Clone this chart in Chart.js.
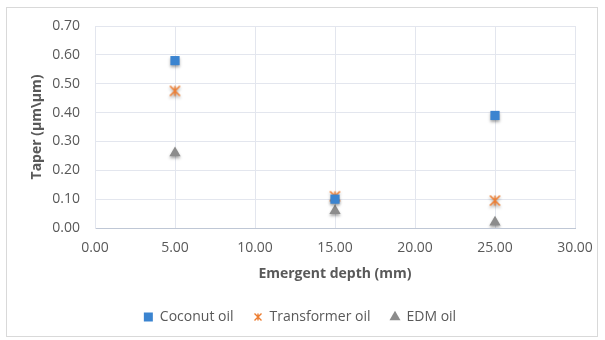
<!DOCTYPE html>
<html>
<head>
<meta charset="utf-8">
<script src="https://cdn.jsdelivr.net/npm/chart.js@4"></script>
<style>
html,body{margin:0;padding:0;background:#fff;}
#wrap{position:relative;width:605px;height:340px;}
#frame{position:absolute;left:6px;top:7px;width:592px;height:330px;border:1px solid #d9d9d9;box-sizing:border-box;pointer-events:none;}
canvas{position:absolute;left:0;top:0;}
</style>
</head>
<body>
<div id="wrap"><canvas id="c" width="605" height="340"></canvas><div id="frame"></div></div>
<script>
const depths = [5, 15, 25];
const coconut = [0.58, 0.10, 0.39];
const transformer = [0.475, 0.11, 0.095];
const edm = [0.26, 0.06, 0.02];
const seriesNames = ['Coconut oil', 'Transformer oil', 'EDM oil'];

function starImg(size, lw){
  const c = document.createElement('canvas');
  c.width = size; c.height = size;
  const g = c.getContext('2d');
  g.strokeStyle = '#ED7D31'; g.lineWidth = lw; g.lineCap = 'butt';
  const m = 1.5, s = size - 1.5;
  g.beginPath();
  g.moveTo(m, m); g.lineTo(s, s);
  g.moveTo(s, m); g.lineTo(m, s);
  g.moveTo(size/2, m); g.lineTo(size/2, s);
  g.stroke();
  return c;
}
const starBig = starImg(13, 1.6);
const starSmall = starImg(10, 1.4);

const toPts = arr => depths.map((d, i) => ({x: d, y: arr[i]}));

const shadowPlugin = {
  id: 'shadow',
  beforeDatasetsDraw(chart){
    const ctx = chart.ctx; ctx.save();
    ctx.shadowColor = 'rgba(0,0,0,0.35)'; ctx.shadowBlur = 3; ctx.shadowOffsetY = 2; ctx.shadowOffsetX = 0;
  },
  afterDatasetsDraw(chart){ chart.ctx.restore(); }
};

const font = "'Open Sans', 'Liberation Sans', sans-serif";
new Chart(document.getElementById('c'), {
  type: 'scatter',
  data: {
    datasets: [
      {label: seriesNames[0], data: toPts(coconut), pointStyle: 'rect', pointRadius: 6.5, pointHoverRadius: 6.5, backgroundColor: '#3B84D0', borderColor: '#3B84D0', borderWidth: 0},
      {label: seriesNames[1], data: toPts(transformer), pointStyle: starBig, pointRadius: 6, backgroundColor: '#ED7D31', borderColor: '#ED7D31'},
      {label: seriesNames[2], data: toPts(edm), pointStyle: 'triangle', pointRadius: 6.5, backgroundColor: '#8C8C8C', borderColor: '#8C8C8C', borderWidth: 0}
    ]
  },
  options: {
    responsive: false, animation: false, devicePixelRatio: 1,
    layout: {padding: {left: 25, top: 26, right: 30, bottom: 6}},
    plugins: {
      legend: {
        position: 'bottom',
        labels: {
          usePointStyle: true, boxWidth: 9, boxHeight: 9, padding: 20, color: '#595959', font: {family: font, size: 14},
          generateLabels(chart){
            const items = Chart.defaults.plugins.legend.labels.generateLabels(chart);
            items.forEach(it => { if (it.datasetIndex === 1) it.pointStyle = starSmall; });
            return items;
          }
        }
      },
      tooltip: {enabled: false}
    },
    scales: {
      x: {
        type: 'linear', min: 0, max: 30,
        ticks: {stepSize: 5, padding: 12, color: '#595959', font: {family: font, size: 14}, callback: v => v.toFixed(2)},
        grid: {color: '#E3E6EE', drawTicks: false},
        border: {color: '#BFC7D5', width: 1},
        title: {display: true, text: 'Emergent depth (mm)', color: '#595959', font: {family: font, size: 14, weight: 'bold'}, padding: {top: 4, bottom: 8}},
        afterFit: s => { s.height = 62; }
      },
      y: {
        min: 0, max: 0.7,
        ticks: {stepSize: 0.1, padding: 15, color: '#595959', font: {family: font, size: 14}, callback: v => v.toFixed(2)},
        grid: {color: '#E3E6EE', drawTicks: false},
        border: {color: '#E3E6EE', width: 1},
        title: {display: true, text: 'Taper (µm\\µm)', color: '#595959', font: {family: font, size: 14, weight: 'bold'}, padding: {top: 4, bottom: 4}},
        afterFit: s => { s.width = 70; }
      }
    }
  },
  plugins: [shadowPlugin]
});
</script>
</body>
</html>
